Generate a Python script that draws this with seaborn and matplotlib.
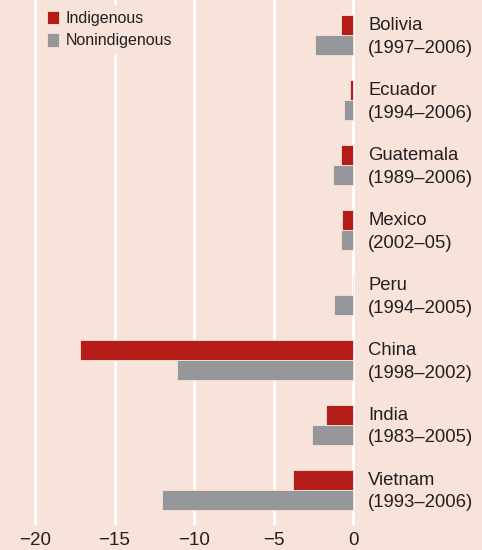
import matplotlib
matplotlib.use("Agg")
import matplotlib.pyplot as plt
import seaborn as sns
import pandas as pd

# data
countries = ["Bolivia", "Ecuador", "Guatemala", "Mexico", "Peru", "China", "India", "Vietnam"]
periods = ["(1997\u20132006)", "(1994\u20132006)", "(1989\u20132006)", "(2002\u201305)",
           "(1994\u20132005)", "(1998\u20132002)", "(1983\u20132005)", "(1993\u20132006)"]
indigenous = [-0.75, -0.2, -0.75, -0.7, 0.0, -17.2, -1.7, -3.8]
nonindigenous = [-2.4, -0.55, -1.25, -0.75, -1.2, -11.1, -2.6, -12.0]
groups = ["Indigenous", "Nonindigenous"]

bg = "#F7E3D9"
red = "#B41C18"
grey = "#96979B"
ink = "#231F20"

df = pd.DataFrame({
    "country": countries * 2,
    "value": indigenous + nonindigenous,
    "group": [groups[0]] * len(countries) + [groups[1]] * len(countries),
})

sns.set_style("white")
plt.rcParams["font.family"] = ["Liberation Sans", "DejaVu Sans"]

fig = plt.figure(figsize=(4.82, 5.5), dpi=100, facecolor=bg)
ax = fig.add_axes([0, 25 / 550, 1, 525 / 550])
ax.set_facecolor(bg)

sns.barplot(data=df, y="country", x="value", hue="group", order=countries,
            hue_order=groups, palette=[red, grey], orient="h", width=0.62,
            saturation=1, ax=ax, zorder=2, linewidth=0.6, edgecolor=bg)

ax.set_xlim(-22.2, 8.1)
ax.set_ylim(7.54, -0.54)
ax.set_xticks([-20, -15, -10, -5, 0])
ax.grid(axis="x", color="white", linewidth=2, zorder=0)
ax.set_axisbelow(True)
for s in ax.spines.values():
    s.set_visible(False)
ax.set_xlabel("")
ax.set_ylabel("")
ax.set_yticks([])
ax.tick_params(axis="x", length=0, pad=5, labelsize=13.5, labelcolor=ink)

for i, (c, p) in enumerate(zip(countries, periods)):
    ax.text(0.95, i + 0.03, c + "\n" + p, ha="left", va="center", fontsize=13.3,
            color=ink, linespacing=1.4)

leg = ax.legend(loc="upper left", bbox_to_anchor=(0.07, 1.005), frameon=True,
                facecolor=bg, edgecolor="none", framealpha=1, fontsize=11.5,
                handlelength=0.75, handleheight=0.9, handletextpad=0.4,
                labelspacing=0.45, borderpad=0.35)
for t in leg.get_texts():
    t.set_color(ink)

fig.savefig("out.png", dpi=100, facecolor=bg)
